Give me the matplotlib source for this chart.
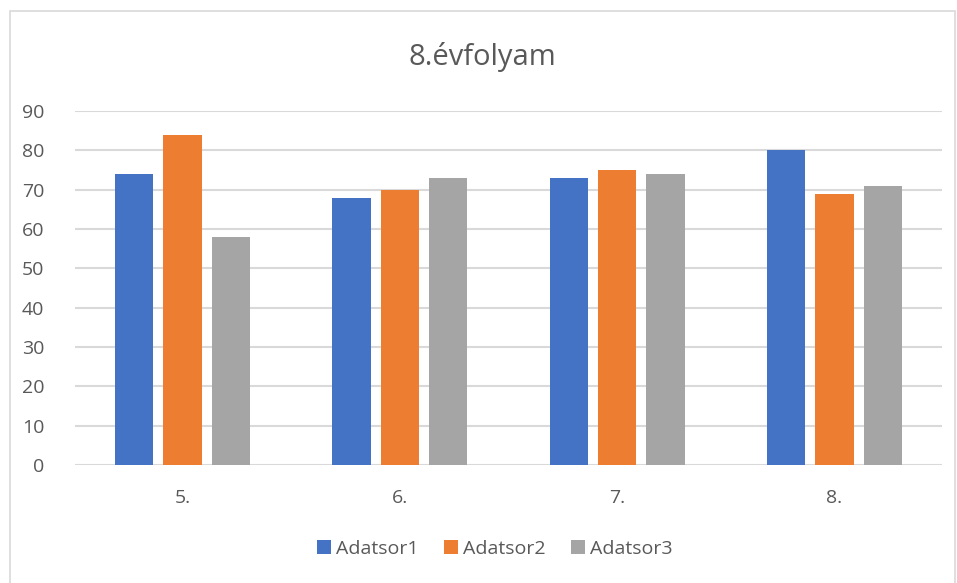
import matplotlib
matplotlib.use("Agg")
import matplotlib.pyplot as plt
import numpy as np
from matplotlib.patches import Rectangle

plt.rcParams['font.family'] = ['Open Sans', 'DejaVu Sans']

categories = ["5.", "6.", "7.", "8."]
series_names = ["Adatsor1", "Adatsor2", "Adatsor3"]
adatsor1 = [74, 68, 73, 80]
adatsor2 = [84, 70, 75, 69]
adatsor3 = [58, 73, 74, 71]
colors = ["#4472C4", "#ED7D31", "#A5A5A5"]
yticks = [0, 10, 20, 30, 40, 50, 60, 70, 80, 90]
title = "8.évfolyam"

W, H = 957, 583
fig = plt.figure(figsize=(W / 100, H / 100), dpi=100)
fig.patch.set_facecolor("white")

# chart border
fig.patches.append(Rectangle((10 / W, -0.01), (W - 12) / W, (H - 10) / H + 0.01 - 1 / H,
                             transform=fig.transFigure, fill=False,
                             edgecolor="#D9D9D9", linewidth=1.2))

ax = fig.add_axes([75 / W, (H - 465) / H, (942 - 75) / W, (465 - 111) / H])
x = np.arange(len(categories))
bw = 0.176
off = 0.222
for i, (vals, name) in enumerate(zip([adatsor1, adatsor2, adatsor3], series_names)):
    ax.bar(x + (i - 1) * off, vals, width=bw, color=colors[i], label=name, zorder=3)

ax.set_xlim(-0.495, len(categories) - 0.505)
ax.set_ylim(0, 90)
ax.set_yticks(yticks)
ax.set_xticks(x)
ax.set_xticklabels(categories)
ax.grid(axis="y", color="#D9D9D9", linewidth=1.5, zorder=0)
ax.set_axisbelow(True)
for s in ax.spines.values():
    s.set_visible(False)
ax.tick_params(axis="both", length=0, colors="#595959", labelsize=14)
ax.tick_params(axis="y", pad=22)
ax.tick_params(axis="x", pad=17)

fig.text(482 / W, 1 - 57 / H, title, ha="center", va="center",
         fontsize=21, color="#595959")

leg = fig.legend(loc="center", bbox_to_anchor=(495 / W, 1 - 549 / H), ncol=3,
                 frameon=False, fontsize=14, handlelength=0.72, handleheight=0.72,
                 handletextpad=0.26, columnspacing=1.3)
for t in leg.get_texts():
    t.set_color("#595959")

fig.savefig("out.png", dpi=100, facecolor="white")
